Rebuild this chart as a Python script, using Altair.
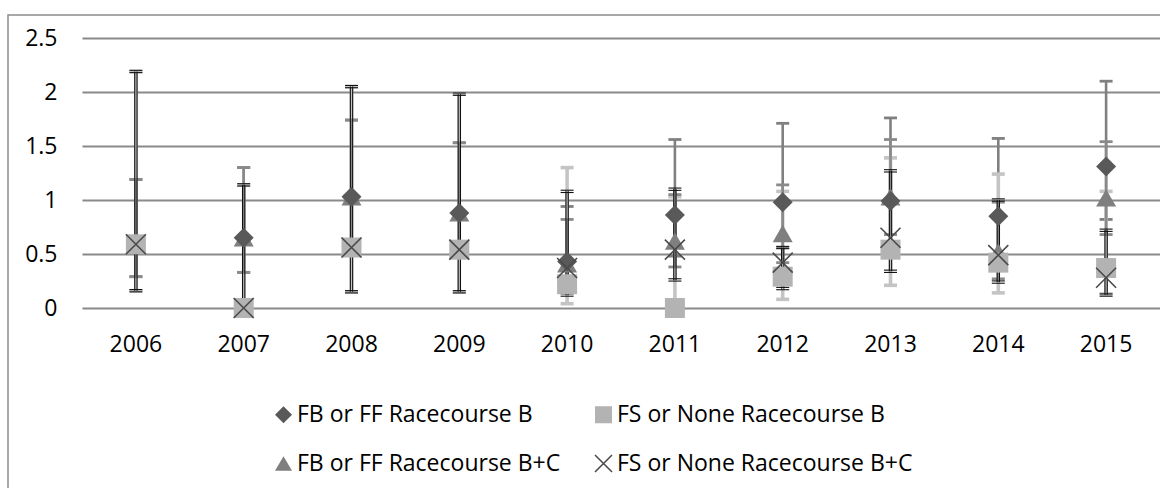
import altair as alt
import pandas as pd

# Years on the category axis
years = [str(y) for y in range(2006, 2016)]

series_names = [
    "FB or FF Racecourse B",
    "FS or None Racecourse B",
    "FB or FF Racecourse B+C",
    "FS or None Racecourse B+C",
]

# FB or FF, racecourse B: estimate with lower / upper interval bounds
fb_b_val = [0.59, 0.65, 1.03, 0.88, 0.43, 0.86, 0.98, 0.99, 0.85, 1.31]
fb_b_lo = [0.29, 0.33, 0.61, 0.50, 0.20, 0.48, 0.56, 0.56, 0.46, 0.82]
fb_b_hi = [1.19, 1.30, 1.74, 1.53, 0.94, 1.56, 1.71, 1.76, 1.57, 2.10]

# FS or None, racecourse B
fs_b_val = [0.59, 0.00, 0.56, 0.54, 0.22, 0.00, 0.29, 0.54, 0.42, 0.37]
fs_b_lo = [0.16, 0.00, 0.15, 0.15, 0.04, 0.00, 0.08, 0.21, 0.14, 0.13]
fs_b_hi = [2.19, 1.14, 2.05, 1.98, 1.30, 1.03, 1.08, 1.39, 1.24, 1.08]

# FB or FF, racecourse B+C
fb_bc_val = [0.59, 0.65, 1.03, 0.88, 0.41, 0.62, 0.69, 1.03, 0.52, 1.02]
fb_bc_lo = [0.29, 0.33, 0.61, 0.50, 0.20, 0.38, 0.42, 0.68, 0.27, 0.68]
fb_bc_hi = [1.19, 1.30, 1.74, 1.53, 0.82, 1.05, 1.14, 1.56, 0.98, 1.54]

# FS or None, racecourse B+C
fs_bc_val = [0.59, 0.00, 0.56, 0.54, 0.37, 0.54, 0.42, 0.65, 0.49, 0.28]
fs_bc_lo = [0.16, 0.00, 0.15, 0.15, 0.12, 0.26, 0.18, 0.34, 0.24, 0.12]
fs_bc_hi = [2.19, 1.14, 2.05, 1.98, 1.08, 1.10, 0.56, 1.27, 1.00, 0.72]

y_ticks = [0, 0.5, 1, 1.5, 2, 2.5]

FONT = "Open Sans"
FS = 23

series_data = {
    series_names[0]: (fb_b_val, fb_b_lo, fb_b_hi),
    series_names[1]: (fs_b_val, fs_b_lo, fs_b_hi),
    series_names[2]: (fb_bc_val, fb_bc_lo, fb_bc_hi),
    series_names[3]: (fs_bc_val, fs_bc_lo, fs_bc_hi),
}

rows = []
for name, (vals, los, his) in series_data.items():
    for yr, v, lo, hi in zip(years, vals, los, his):
        rows.append({"year": yr, "series": name, "value": v, "lo": lo, "hi": hi})
df = pd.DataFrame(rows)

# markers drawn in this stacking order (later on top)
draw_order = [series_names[2], series_names[0], series_names[1], series_names[3]]
pts = pd.concat([df[df.series == s] for s in draw_order], ignore_index=True)

x_enc = alt.X(
    "year:N",
    sort=years,
    scale=alt.Scale(type="band", domain=years, paddingInner=0, paddingOuter=0),
    axis=alt.Axis(
        title=None, labelAngle=0, ticks=False, domain=False, grid=False,
        labelFont=FONT, labelFontSize=FS, labelColor="#000000", labelPadding=25,
    ),
)
y_scale = alt.Scale(domain=[0, 2.5], nice=False, zero=True)
y_axis = alt.Axis(
    title=None, values=y_ticks, format="~g", domain=False, ticks=False, tickSize=0,
    grid=True, gridColor="#8a8a8a", gridWidth=1.8,
    labelFont=FONT, labelFontSize=FS, labelColor="#000000", labelPadding=25,
)

base = alt.Chart(df)


def bars(name, color, width, cap, offsets=(0,)):
    layers = []
    for off in offsets:
        src = base.transform_filter(alt.datum.series == name)
        layers.append(
            src.mark_rule(color=color, strokeWidth=width, xOffset=off).encode(
                x=x_enc, y=alt.Y("lo:Q", scale=y_scale, axis=y_axis), y2="hi:Q"
            )
        )
        for fld in ("lo", "hi"):
            layers.append(
                src.mark_tick(color=color, thickness=width if len(offsets) > 1 else cap,
                              size=13, yOffset=off, opacity=1).encode(
                    x=x_enc, y=alt.Y(f"{fld}:Q", scale=y_scale, axis=y_axis)
                )
            )
    return layers


bar_layers = []
bar_layers += bars(series_names[0], "#808080", 2.6, 2.8)
bar_layers += bars(series_names[1], "#c4c4c4", 3.6, 3.6)
bar_layers += bars(series_names[2], "#8a8a8a", 2.6, 2.8)
bar_layers += bars(series_names[3], "#111111", 1.1, 1.1, offsets=(-1.15, 1.15))

legend = alt.Legend(
    title=None, orient="none", legendX=190, legendY=365, columns=2,
    direction="horizontal", labelLimit=0,
    labelFont=FONT, labelFontSize=FS, labelColor="#000000",
    symbolSize=290, symbolStrokeWidth=1.5, columnPadding=30, rowPadding=24,
    labelOffset=2,
)

x_path = "M -1 -1 L 1 1 M -1 1 L 1 -1"

points = alt.Chart(pts).mark_point(filled=True, opacity=1, size=400, strokeWidth=1.6).encode(
    x=x_enc,
    y=alt.Y("value:Q", scale=y_scale, axis=y_axis),
    shape=alt.Shape("series:N", sort=series_names,
                    scale=alt.Scale(domain=series_names,
                                    range=["diamond", "square", "triangle-up", x_path]),
                    legend=legend),
    fill=alt.Fill("series:N", sort=series_names,
                  scale=alt.Scale(domain=series_names,
                                  range=["#595959", "#b3b3b3", "#7f7f7f", "transparent"]),
                  legend=legend),
    stroke=alt.Stroke("series:N", sort=series_names,
                      scale=alt.Scale(domain=series_names,
                                      range=["transparent", "transparent", "transparent", "#4a4a4a"]),
                      legend=legend),
)

frame = alt.Chart(alt.Data(values=[{"k": 1}])).mark_rect(
    fill="transparent", stroke="#8c8c8c", strokeWidth=1.5
).encode(
    x=alt.value(-74), x2=alt.value(1200), y=alt.value(-23), y2=alt.value(520)
)

chart = alt.layer(frame, *bar_layers, points).properties(
    width=1078,
    height=270,
    padding={"left": 82, "top": 38, "right": 0, "bottom": 180},
    autosize=alt.AutoSizeParams(type="none"),
    background="white",
).configure_view(strokeWidth=0)

chart.save("out.html", embed_options={"renderer": "svg", "actions": False})
